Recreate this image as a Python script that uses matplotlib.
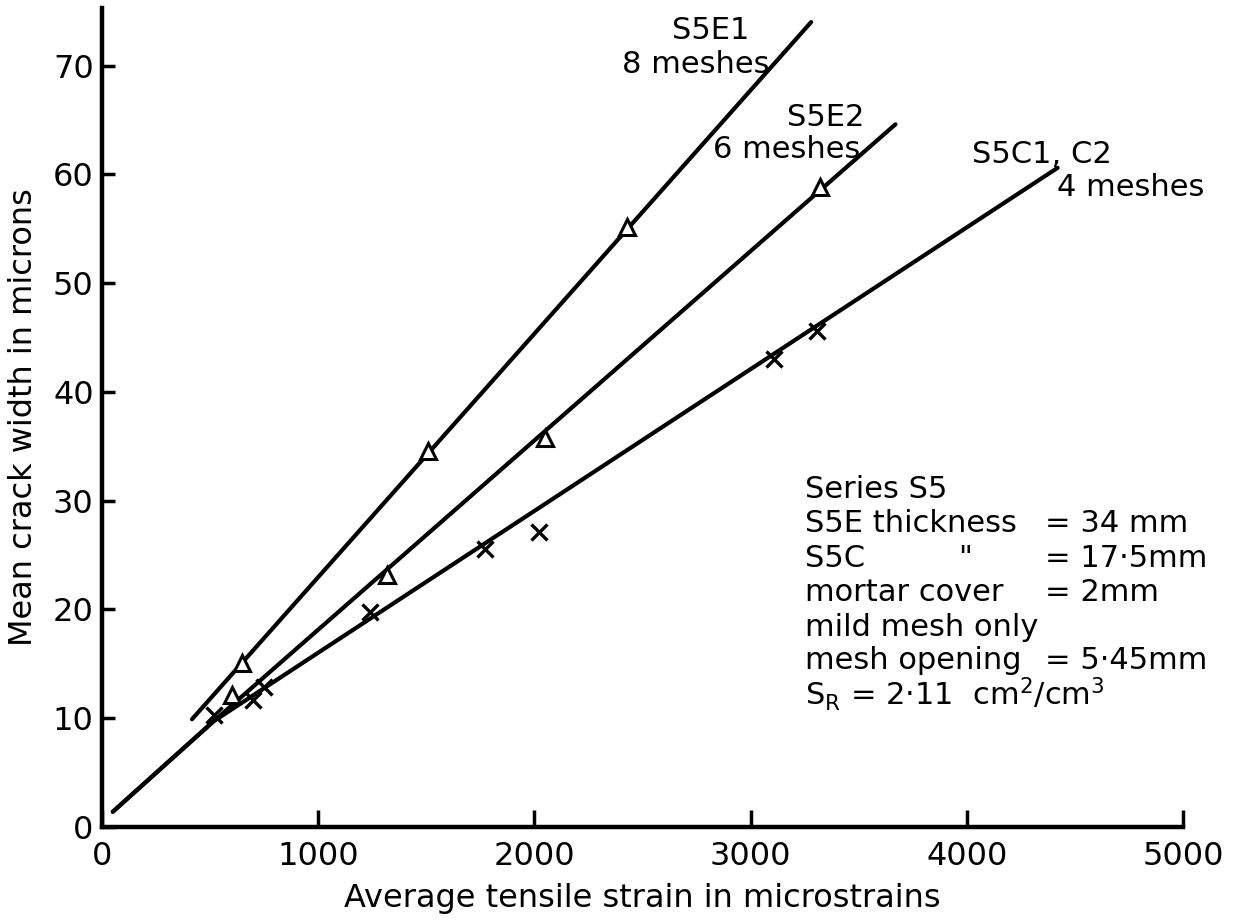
import matplotlib
matplotlib.use("Agg")
import matplotlib.pyplot as plt

plt.rcParams['font.family'] = ['DejaVu Sans']
plt.rcParams['mathtext.default'] = 'regular'

# fitted lines (polylines)
e1_line_x = [416, 3280]
e1_line_y = [9.9, 74.0]
e2_line_x = [50, 515, 3670]
e2_line_y = [1.4, 9.7, 64.6]
c_line_x = [50, 515, 4420]
c_line_y = [1.4, 9.7, 60.6]

# measured points
e1_x = [646, 1508, 2428]
e1_y = [15.1, 34.6, 55.2]
e2_x = [600, 1320, 2050, 3320]
e2_y = [12.1, 23.2, 35.8, 58.8]
c_x = [520, 700, 750, 1240, 1770, 2020, 3110, 3306]
c_y = [10.3, 11.7, 12.9, 19.8, 25.6, 27.1, 43.0, 45.6]

x_ticks = [0, 1000, 2000, 3000, 4000, 5000]
y_ticks = [0, 10, 20, 30, 40, 50, 60, 70]

fig = plt.figure(figsize=(12.47, 9.21), dpi=100)
ax = fig.add_axes([0.0818, 0.1021, 0.8669, 0.8893])

lw = 3.0
ax.plot(e1_line_x, e1_line_y, color='black', lw=lw, solid_capstyle='round')
ax.plot(e2_line_x, e2_line_y, color='black', lw=lw, solid_capstyle='round')
ax.plot(c_line_x, c_line_y, color='black', lw=lw, solid_capstyle='round')

ax.plot(e1_x, e1_y, ls='none', marker='^', ms=11, mfc='white', mec='black', mew=2.2)
ax.plot(e2_x, e2_y, ls='none', marker='^', ms=11, mfc='white', mec='black', mew=2.2)
ax.plot(c_x, c_y, ls='none', marker='x', ms=11, mec='black', mew=2.4)

ax.set_xlim(0, 5000)
ax.set_ylim(0, 75.3)
ax.set_xticks(x_ticks)
ax.set_yticks(y_ticks)
ax.tick_params(direction='in', width=2.5, labelsize=23)
ax.tick_params(axis='x', length=12, pad=10)
ax.tick_params(axis='y', length=9, pad=6)
for s in ['top', 'right']:
    ax.spines[s].set_visible(False)
for s in ['left', 'bottom']:
    ax.spines[s].set_linewidth(3.2)

ax.set_xlabel('Average tensile strain in microstrains', fontsize=23, labelpad=8)
ax.set_ylabel('Mean crack width in microns', fontsize=23, labelpad=10)

fs = 22
ax.text(2636, 73.5, 'S5E1', fontsize=fs, ha='left', va='center_baseline')
ax.text(2405, 70.4, '8 meshes', fontsize=fs, ha='left', va='center_baseline')
ax.text(3167, 65.5, 'S5E2', fontsize=fs, ha='left', va='center_baseline')
ax.text(3506, 62.6, '6 meshes', fontsize=fs, ha='right', va='center_baseline')
ax.text(4022, 62.1, 'S5C1, C2', fontsize=fs, ha='left', va='center_baseline')
ax.text(4416, 59.1, '4 meshes', fontsize=fs, ha='left', va='center_baseline')

# notes block
col0, col1, col2 = 3252, 3959, 4362
rows = [31.3, 28.2, 25.0, 21.8, 18.6, 15.6, 12.6]
ax.text(col0, rows[0], 'Series S5', fontsize=fs, va='center_baseline')
ax.text(col0, rows[1], 'S5E thickness', fontsize=fs, va='center_baseline')
ax.text(col2, rows[1], '= 34 mm', fontsize=fs, va='center_baseline')
ax.text(col0, rows[2], 'S5C', fontsize=fs, va='center_baseline')
ax.text(col1, rows[2], '"', fontsize=fs, va='center_baseline')
ax.text(col2, rows[2], '= 17·5mm', fontsize=fs, va='center_baseline')
ax.text(col0, rows[3], 'mortar cover', fontsize=fs, va='center_baseline')
ax.text(col2, rows[3], '= 2mm', fontsize=fs, va='center_baseline')
ax.text(col0, rows[4], 'mild mesh only', fontsize=fs, va='center_baseline')
ax.text(col0, rows[5], 'mesh opening', fontsize=fs, va='center_baseline')
ax.text(col2, rows[5], '= 5·45mm', fontsize=fs, va='center_baseline')
ax.text(col0, rows[6], r'S$_R$ = 2·11  cm$^2$/cm$^3$', fontsize=fs, va='center_baseline')

fig.savefig('out.png', dpi=100)
